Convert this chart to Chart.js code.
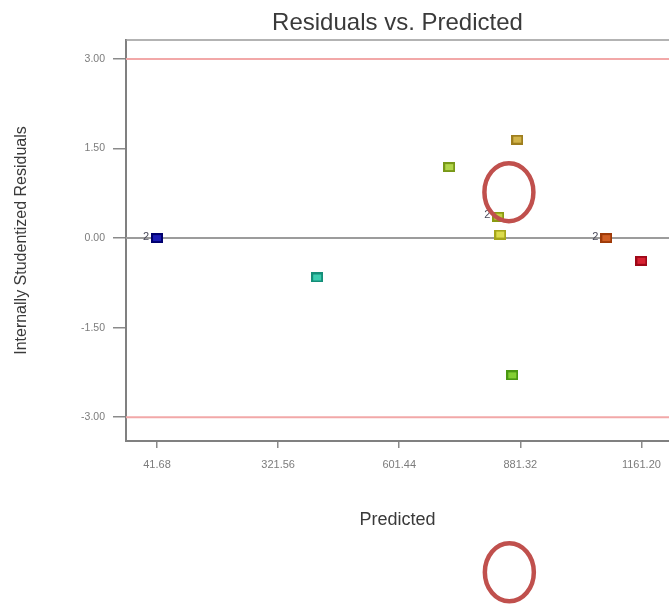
<!DOCTYPE html>
<html>
<head>
<meta charset="utf-8">
<script src="https://cdn.jsdelivr.net/npm/chart.js@4.4.1/dist/chart.umd.min.js"></script>
<style>
  html, body { margin: 0; padding: 0; background: #ffffff; }
  canvas { display: block; }
</style>
</head>
<body>
<canvas id="c" width="669" height="606"></canvas>
<script>
// Predicted response vs. internally studentized residual for each run
const predicted  = [41.68, 411.8, 717.1, 874.4, 830.4, 835.1, 862.8, 1080.2, 1161.2];
const residuals  = [0.00, -0.66, 1.19, 1.65, 0.36, 0.06, -2.30, 0.00, -0.38];
// number of runs sharing each marker (shown as a small count label when > 1)
const runCounts  = [2, 1, 1, 1, 2, 1, 1, 2, 1];
// marker colours (inner fill and darker edge)
const fillColors = ['#1c1cb4', '#3ccdb0', '#b2d64a', '#d2b44a', '#c2d244', '#dcdc4c', '#84d034', '#d05e24', '#d82232'];
const edgeColors = ['#00006e', '#148e78', '#789818', '#9e7e1e', '#8a9a12', '#a6a61a', '#4a9812', '#9e3a08', '#9e0818'];

const xTickValues = [41.68, 321.56, 601.44, 881.32, 1161.20];
const yTickValues = [-3.00, -1.50, 0.00, 1.50, 3.00];
const limitLines  = [3.00, -3.00];
const zeroLine    = 0;
// circled regions of interest (centre in data units)
const callouts    = [{ x: 855, y: 0.77 }, { x: 856, y: -5.60 }];

const FONT = "'Liberation Sans', Arial, Helvetica, sans-serif";

function markerCanvas(fill, edge) {
  const w = 12, h = 10;
  const cv = document.createElement('canvas');
  cv.width = w; cv.height = h;
  const g = cv.getContext('2d');
  g.fillStyle = edge; g.fillRect(0, 0, w, h);
  g.fillStyle = fill; g.fillRect(2, 2, w - 4, h - 4);
  return cv;
}

const points = predicted.map((x, i) => ({ x: x, y: residuals[i] }));
const markers = fillColors.map((f, i) => markerCanvas(f, edgeColors[i]));

// reference lines at the limits and at zero, plus the top frame line
const refLines = {
  id: 'refLines',
  beforeDatasetsDraw(chart) {
    const { ctx, chartArea: a, scales: { y } } = chart;
    ctx.save();
    ctx.lineWidth = 2;
    ctx.strokeStyle = '#f2a8a8';
    limitLines.forEach(v => {
      const py = y.getPixelForValue(v);
      ctx.beginPath(); ctx.moveTo(a.left, py); ctx.lineTo(a.right, py); ctx.stroke();
    });
    ctx.strokeStyle = '#9c9c9c';
    const pz = y.getPixelForValue(zeroLine);
    ctx.beginPath(); ctx.moveTo(a.left, pz); ctx.lineTo(a.right, pz); ctx.stroke();
    ctx.strokeStyle = '#9a9a9a';
    ctx.lineWidth = 1.5;
    ctx.beginPath(); ctx.moveTo(a.left, a.top); ctx.lineTo(a.right, a.top); ctx.stroke();
    ctx.restore();
  }
};

// small count labels beside markers that represent several runs
const countLabels = {
  id: 'countLabels',
  afterDatasetsDraw(chart) {
    const { ctx, scales: { x, y } } = chart;
    ctx.save();
    ctx.font = '11px ' + FONT;
    ctx.fillStyle = '#4a4a5a';
    ctx.textAlign = 'right';
    ctx.textBaseline = 'middle';
    runCounts.forEach((n, i) => {
      if (n > 1) {
        const px = x.getPixelForValue(predicted[i]);
        const py = y.getPixelForValue(residuals[i]);
        ctx.fillText(String(n), px - 8, py - 1.5);
      }
    });
    ctx.restore();
  }
};

// red circles marking regions of interest
const circles = {
  id: 'circles',
  afterDraw(chart) {
    const { ctx, scales: { x, y } } = chart;
    ctx.save();
    ctx.strokeStyle = '#c0504d';
    ctx.lineWidth = 4.5;
    callouts.forEach(c => {
      ctx.beginPath();
      ctx.ellipse(x.getPixelForValue(c.x), y.getPixelForValue(c.y), 24.5, 29, 0, 0, Math.PI * 2);
      ctx.stroke();
    });
    ctx.restore();
  }
};

new Chart(document.getElementById('c'), {
  type: 'scatter',
  data: {
    datasets: [{
      data: points,
      pointStyle: markers,
      pointRadius: 6,
      pointHoverRadius: 6
    }]
  },
  options: {
    responsive: false,
    devicePixelRatio: 1,
    animation: false,
    events: [],
    layout: { padding: 0, autoPadding: false },
    plugins: {
      legend: { display: false },
      tooltip: { enabled: false },
      title: {
        display: true,
        text: 'Residuals vs. Predicted',
        fullSize: false,
        color: '#3a3a3a',
        font: { family: FONT, size: 24, weight: 'normal' },
        padding: { top: 8.5, bottom: 2.7 }
      }
    },
    scales: {
      x: {
        type: 'linear',
        min: -30,
        max: 1225,
        afterFit(scale) {
          scale.height = 165;
          scale.paddingLeft = 0;
          scale.paddingRight = 0;
        },
        afterBuildTicks(scale) { scale.ticks = xTickValues.map(v => ({ value: v })); },
        ticks: {
          autoSkip: false,
          maxRotation: 0,
          padding: 10,
          color: '#7c7c7c',
          font: { family: FONT, size: 11 },
          callback: v => Number(v).toFixed(2)
        },
        grid: { drawOnChartArea: false, drawTicks: true, tickLength: 7, color: '#8a8a8a', lineWidth: 1.5 },
        border: { display: true, color: '#808080', width: 2 },
        title: {
          display: true,
          text: 'Predicted',
          color: '#3a3a3a',
          font: { family: FONT, size: 18 },
          padding: { top: 0, bottom: 75.2 }
        }
      },
      y: {
        type: 'linear',
        min: -3.40,
        max: 3.32,
        afterFit(scale) { scale.width = 126; },
        afterBuildTicks(scale) { scale.ticks = yTickValues.map(v => ({ value: v })); },
        ticks: {
          autoSkip: false,
          padding: 8,
          color: '#7c7c7c',
          font: { family: FONT, size: 10.5 },
          callback: v => Number(v).toFixed(2)
        },
        grid: { drawOnChartArea: false, drawTicks: true, tickLength: 13, color: '#8a8a8a', lineWidth: 1.5 },
        border: { display: true, color: '#808080', width: 2 },
        title: {
          display: true,
          text: 'Internally Studentized Residuals',
          color: '#3a3a3a',
          font: { family: FONT, size: 16 },
          padding: { top: 12.4, bottom: 0 }
        }
      }
    }
  },
  plugins: [refLines, countLabels, circles]
});
</script>
</body>
</html>
